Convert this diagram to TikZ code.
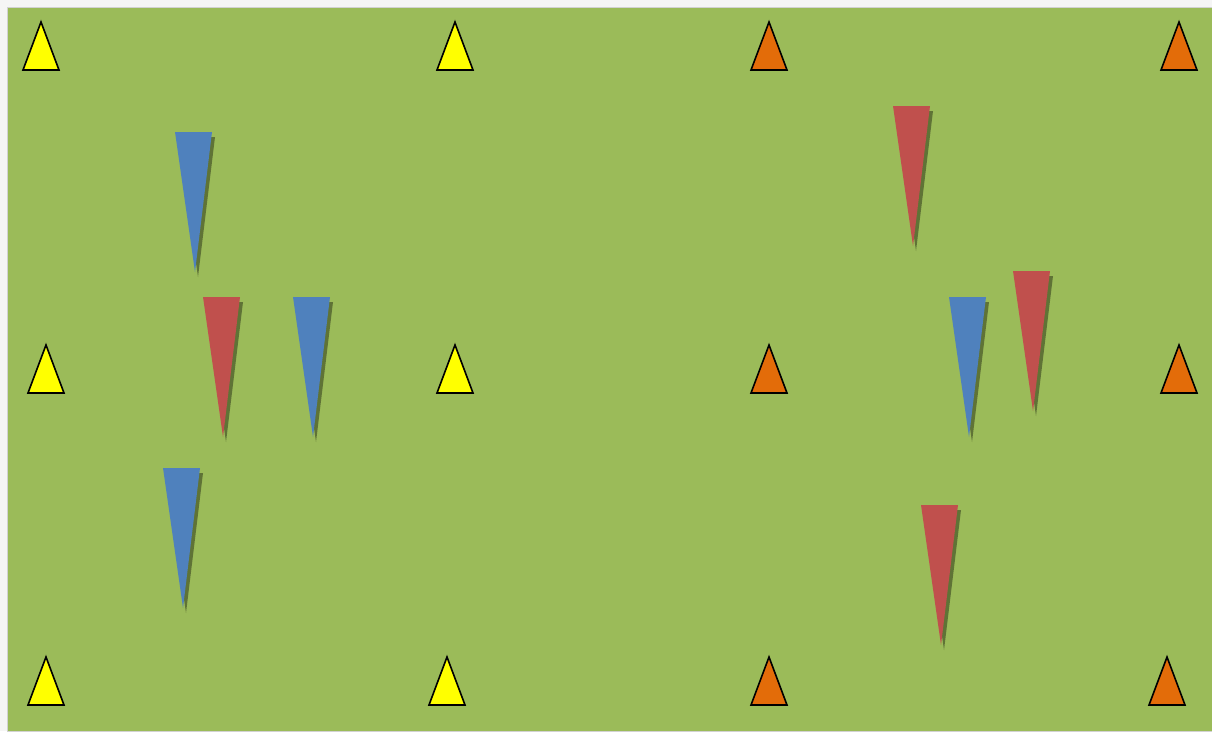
\documentclass[tikz,border=0pt]{standalone}
\usetikzlibrary{calc}
\definecolor{pitch}{HTML}{9BBB59}
\definecolor{bibblue}{HTML}{4F81BD}
\definecolor{bibred}{HTML}{C0504D}
\definecolor{coneyellow}{HTML}{FFFF00}
\definecolor{coneorange}{HTML}{E36C09}
\tikzset{
  cone/.style={draw=black, line width=1.6pt, line join=miter},
  bibshadow/.style={fill=black!70!pitch, opacity=0.55},
}

\begin{document}
\begin{tikzpicture}[x=1pt,y=-1pt]
    \useasboundingbox (0,0) rectangle (1212,731);
    \fill [gray!8] (0,0) rectangle (1212,731);
    \draw [gray!35, fill=pitch] (7,7) rectangle (1212,731);
    % cones: apex x / base y / colour
    \foreach \x/\y/\c in {41/70/coneyellow, 455/70/coneyellow, 769/70/coneorange, 1179/70/coneorange,
                          46/393/coneyellow, 455/393/coneyellow, 769/393/coneorange, 1179/393/coneorange,
                          46/705/coneyellow, 447/705/coneyellow, 769/705/coneorange, 1167/705/coneorange}
        \draw [cone, fill=\c] (\x-18,\y) -- (\x,\y-48) -- (\x+18,\y) -- cycle;
    % bibs: left x / top y / colour
    \foreach \x/\y/\c in {175/132/bibblue, 203/297/bibred, 293/297/bibblue, 163/468/bibblue,
                          893/106/bibred, 949/297/bibblue, 1013/271/bibred, 921/505/bibred}
    {
        \fill [bibshadow] (\x+3,\y+5) -- (\x+40,\y+5) -- (\x+23,\y+145) -- cycle;
        \fill [\c] (\x,\y) -- (\x+37,\y) -- (\x+20,\y+140) -- cycle;
    }
\end{tikzpicture}
\end{document}
